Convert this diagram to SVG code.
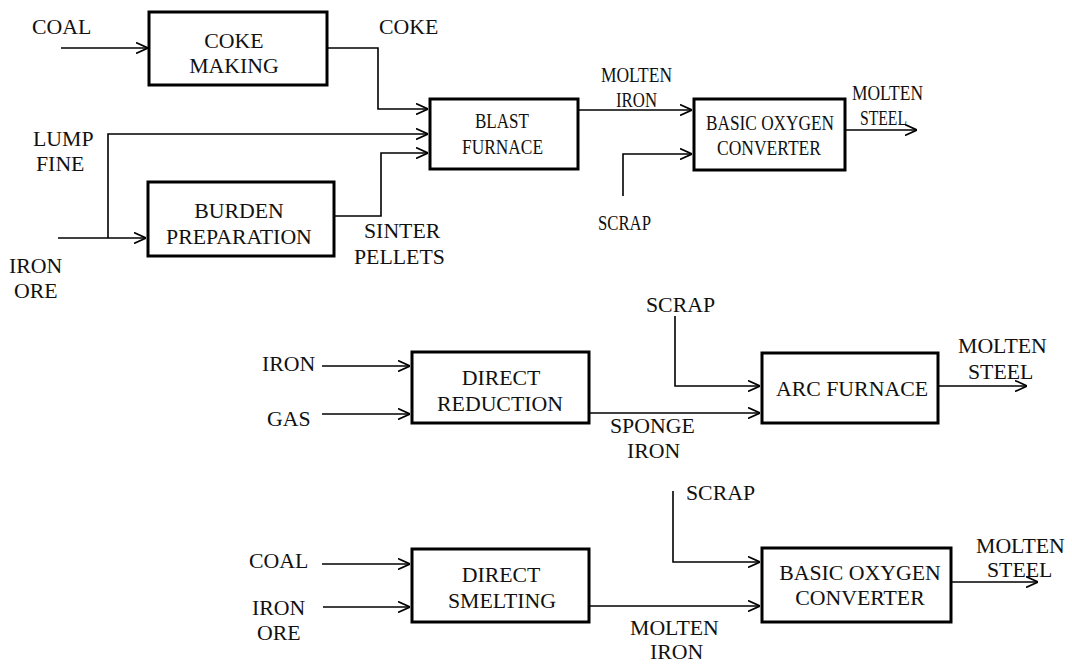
<svg xmlns="http://www.w3.org/2000/svg" width="1072" height="664" viewBox="0 0 1072 664">
<style>
  .box { fill: #fff; stroke: #000; stroke-width: 3; }
  .ln { fill: none; stroke: #000; stroke-width: 1.6; }
  .arr { marker-end: url(#ah); }
  text { font-family: "Liberation Serif", "Times New Roman", "DejaVu Serif", serif; font-size: 21.8px; fill: #111; }
  .c { text-anchor: middle; }
</style>
<defs>
  <marker id="ah" viewBox="0 0 12 12" refX="12" refY="6" markerWidth="12" markerHeight="12" markerUnits="userSpaceOnUse" orient="auto">
    <path d="M0,0.5 L12,6 L0,11.5" fill="none" stroke="#000" stroke-width="1.6"/>
  </marker>
</defs>
<rect width="1072" height="664" fill="#fff"/>

<g id="connectors">
  <!-- top route -->
  <path class="ln arr" d="M61,48 H148"/>
  <path class="ln arr" d="M327,48 H378 V109 H428"/>
  <path class="ln arr" d="M108,238 V134 H428"/>
  <path class="ln arr" d="M58,238 H146"/>
  <path class="ln arr" d="M334,216 H381 V153 H428"/>
  <path class="ln arr" d="M578,110 H692"/>
  <path class="ln arr" d="M623,196 V154 H692"/>
  <path class="ln arr" d="M845,130 H917"/>
  <!-- middle route -->
  <path class="ln arr" d="M322,366 H410"/>
  <path class="ln arr" d="M322,414 H410"/>
  <path class="ln arr" d="M589,413 H760"/>
  <path class="ln arr" d="M675,316 V386 H760"/>
  <path class="ln arr" d="M938,386 H1027"/>
  <!-- bottom route -->
  <path class="ln arr" d="M322,564 H410"/>
  <path class="ln arr" d="M323,607 H410"/>
  <path class="ln arr" d="M589,606 H760"/>
  <path class="ln arr" d="M673,491 V562 H760"/>
  <path class="ln arr" d="M951,582 H1038"/>
</g>

<g id="coke-making">
  <rect class="box" x="149" y="12" width="178" height="73"/>
  <text class="c" x="234" y="48">COKE</text>
  <text class="c" x="234" y="73">MAKING</text>
</g>
<g id="burden-preparation">
  <rect class="box" x="148" y="182" width="186" height="74"/>
  <text class="c" x="239" y="218">BURDEN</text>
  <text class="c" x="239" y="244">PREPARATION</text>
</g>
<g id="blast-furnace">
  <rect class="box" x="430" y="99" width="148" height="70"/>
  <text x="475" y="128" textLength="54" lengthAdjust="spacingAndGlyphs">BLAST</text>
  <text x="462" y="154" textLength="81" lengthAdjust="spacingAndGlyphs">FURNACE</text>
</g>
<g id="boc-1">
  <rect class="box" x="694" y="99" width="151" height="71"/>
  <text x="706" y="130" textLength="128" lengthAdjust="spacingAndGlyphs">BASIC OXYGEN</text>
  <text x="717" y="155" textLength="104" lengthAdjust="spacingAndGlyphs">CONVERTER</text>
</g>
<g id="direct-reduction">
  <rect class="box" x="412" y="352" width="177" height="71"/>
  <text class="c" x="501" y="385">DIRECT</text>
  <text class="c" x="500" y="411">REDUCTION</text>
</g>
<g id="arc-furnace">
  <rect class="box" x="762" y="353" width="176" height="70"/>
  <text class="c" x="852" y="396">ARC FURNACE</text>
</g>
<g id="direct-smelting">
  <rect class="box" x="412" y="549" width="177" height="73"/>
  <text class="c" x="501" y="582">DIRECT</text>
  <text class="c" x="502" y="608">SMELTING</text>
</g>
<g id="boc-2">
  <rect class="box" x="762" y="548" width="189" height="74"/>
  <text class="c" x="860" y="580">BASIC OXYGEN</text>
  <text class="c" x="860" y="605">CONVERTER</text>
</g>

<g id="labels">
  <text x="32" y="34">COAL</text>
  <text x="379" y="34">COKE</text>
  <text x="33" y="146">LUMP</text>
  <text x="36" y="171">FINE</text>
  <text x="364" y="238">SINTER</text>
  <text x="354" y="264">PELLETS</text>
  <text x="9" y="273">IRON</text>
  <text x="14" y="298">ORE</text>
  <text x="601" y="82" textLength="71" lengthAdjust="spacingAndGlyphs">MOLTEN</text>
  <text x="616" y="107" textLength="41" lengthAdjust="spacingAndGlyphs">IRON</text>
  <text x="598" y="230" textLength="53" lengthAdjust="spacingAndGlyphs">SCRAP</text>
  <text x="852" y="100" textLength="71" lengthAdjust="spacingAndGlyphs">MOLTEN</text>
  <text x="860" y="125" textLength="47" lengthAdjust="spacingAndGlyphs">STEEL</text>

  <text x="262" y="371">IRON</text>
  <text x="267" y="426">GAS</text>
  <text x="646" y="312">SCRAP</text>
  <text x="610" y="433">SPONGE</text>
  <text x="627" y="458">IRON</text>
  <text x="958" y="353">MOLTEN</text>
  <text x="968" y="379">STEEL</text>

  <text x="249" y="568">COAL</text>
  <text x="252" y="615">IRON</text>
  <text x="257" y="640">ORE</text>
  <text x="686" y="500">SCRAP</text>
  <text x="630" y="635">MOLTEN</text>
  <text x="650" y="659">IRON</text>
  <text x="976" y="553">MOLTEN</text>
  <text x="987" y="577">STEEL</text>
</g>
</svg>
